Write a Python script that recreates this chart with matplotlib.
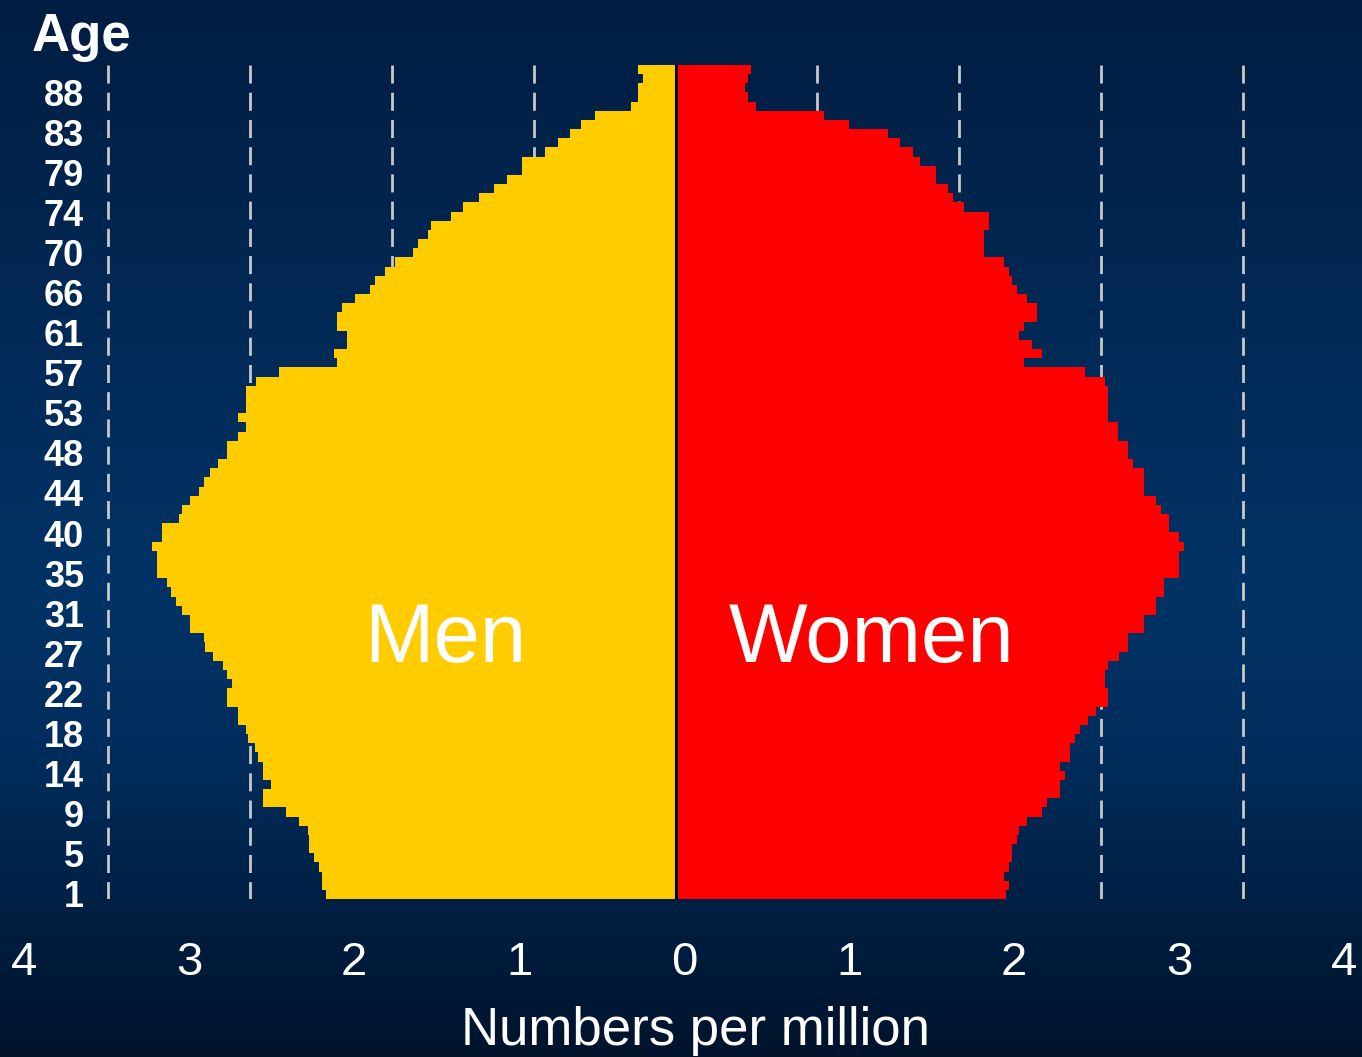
# Population pyramid: men and women by single year of age
import matplotlib.pyplot as plt
import matplotlib.transforms as mtransforms
from matplotlib.colors import LinearSegmentedColormap
import numpy as np

# Data (numbers per million), age 0 .. 90
ages = list(range(0, 91))
men = [2.12, 2.14, 2.14, 2.16, 2.19, 2.22, 2.22, 2.23, 2.28, 2.36,
       2.50, 2.50, 2.45, 2.50, 2.50, 2.53, 2.55, 2.59, 2.60, 2.65,
       2.65, 2.72, 2.72, 2.69, 2.72, 2.74, 2.80, 2.85, 2.86, 2.94,
       2.94, 2.99, 3.03, 3.06, 3.08, 3.14, 3.14, 3.14, 3.17, 3.11,
       3.11, 3.01, 2.99, 2.94, 2.89, 2.86, 2.82, 2.77, 2.72, 2.72,
       2.65, 2.60, 2.65, 2.60, 2.60, 2.60, 2.54, 2.40, 2.05, 2.07,
       1.99, 1.99, 2.05, 2.05, 2.02, 1.94, 1.85, 1.82, 1.76, 1.70,
       1.59, 1.56, 1.50, 1.48, 1.36, 1.29, 1.19, 1.10, 1.02, 0.93,
       0.93, 0.79, 0.71, 0.64, 0.57, 0.49, 0.27, 0.23, 0.23, 0.20,
       0.23]
women = [2.00, 2.02, 1.99, 2.02, 2.04, 2.04, 2.07, 2.08, 2.13, 2.22,
         2.25, 2.33, 2.33, 2.36, 2.33, 2.39, 2.39, 2.42, 2.45, 2.50,
         2.55, 2.62, 2.62, 2.60, 2.60, 2.62, 2.69, 2.74, 2.74, 2.84,
         2.84, 2.91, 2.91, 2.96, 2.96, 3.05, 3.05, 3.05, 3.08, 3.05,
         2.99, 2.99, 2.94, 2.91, 2.84, 2.84, 2.84, 2.77, 2.74, 2.74,
         2.68, 2.68, 2.62, 2.62, 2.62, 2.62, 2.60, 2.48, 2.11, 2.22,
         2.16, 2.08, 2.11, 2.19, 2.19, 2.13, 2.07, 2.04, 2.02, 1.99,
         1.87, 1.87, 1.87, 1.90, 1.90, 1.75, 1.68, 1.65, 1.58, 1.58,
         1.48, 1.44, 1.36, 1.29, 1.05, 0.90, 0.49, 0.44, 0.42, 0.44,
         0.46]
age_labels = ['1', '5', '9', '14', '18', '22', '27', '31', '35', '40', '44',
              '48', '53', '57', '61', '66', '70', '74', '79', '83', '88']
x_values = [-4, -3, -2, -1, 0, 1, 2, 3, 4]

# Styles:
men_colour = '#ffcc00'
women_colour = '#ff0000'
grid_colour = '#c8c8c8'
text_colour = '#ffffff'
grid_step = 0.86
font = 'Liberation Sans'

fig = plt.figure(figsize=(13.62, 10.57), dpi=100)

# Background gradient (dark blue slide)
bg = fig.add_axes([0, 0, 1, 1], zorder=0)
bg_cmap = LinearSegmentedColormap.from_list(
    'slide', [(0.0, '#011d41'), (0.55, '#013366'), (0.7, '#012e5e'), (1.0, '#00132b')])
bg.imshow(np.linspace(0, 1, 256).reshape(-1, 1), aspect='auto', cmap=bg_cmap,
          extent=[0, 1, 0, 1], origin='upper')
bg.set_axis_off()

ax = fig.add_axes([0, 1 - 899 / 1057, 1, (899 - 65) / 1057], zorder=1)
ax.patch.set_alpha(0)
ax.set_xlim(-675.5 / 165, (1362 - 675.5) / 165)
ax.set_ylim(-0.5, len(ages) - 0.5)

# dashed guide lines, drawn top to bottom so the dash pattern starts at the top
for k in range(1, 5):
    for side in (-1, 1):
        ax.plot([side * k * grid_step] * 2, [len(ages) - 0.5, -0.5], color=grid_colour,
                lw=2.0, dashes=(6.5, 3.3), zorder=1)

ax.barh(ages, [-m for m in men], height=1.0, color=men_colour,
        linewidth=0, antialiased=False, zorder=2)
ax.barh(ages, women, height=1.0, color=women_colour,
        linewidth=0, antialiased=False, zorder=2)
ax.axvline(0, color='black', lw=2.2, zorder=3)

ax.text(-1.397, 25.36, 'Men', color=text_colour, fontsize=60, fontname=font,
        ha='center', va='baseline', zorder=4)
ax.text(1.185, 25.36, 'Women', color=text_colour, fontsize=60, fontname=font,
        ha='center', va='baseline', zorder=4)

# axis labels
ax.set_yticks(np.linspace(0.05, 87.55, len(age_labels)))
ax.set_yticklabels(age_labels, fontname=font, fontweight='bold', fontsize=26, color=text_colour)
ax.tick_params(axis='y', length=0, pad=-60.5)
ax.set_xticks(x_values)
ax.set_xticklabels([str(abs(v)) for v in x_values], fontname=font, fontsize=34, color=text_colour)
ax.tick_params(axis='x', length=0, pad=30)
shift = mtransforms.ScaledTranslation(8.5 / 100, 0, fig.dpi_scale_trans)
for label in ax.get_xticklabels():
    label.set_transform(label.get_transform() + shift)
for spine in ax.spines.values():
    spine.set_visible(False)

fig.text(32 / 1362, 1 - 51 / 1057, 'Age', color=text_colour, fontsize=38, fontname=font,
         fontweight='bold', ha='left', va='baseline')
fig.text(695 / 1362, 1 - 1045 / 1057, 'Numbers per million', color=text_colour, fontsize=38,
         fontname=font, ha='center', va='baseline')

plt.savefig('out.png', dpi=100)
